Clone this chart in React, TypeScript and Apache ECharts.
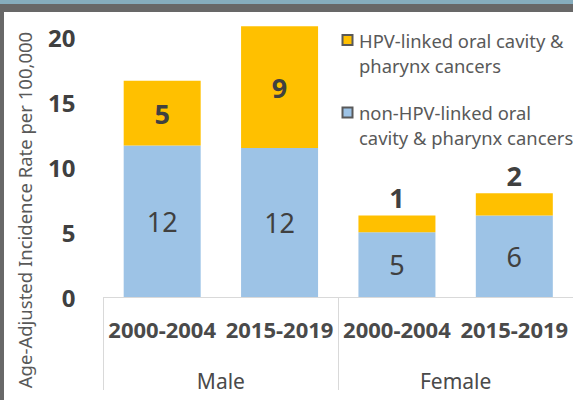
import React, { useEffect, useRef } from "react";
import * as echarts from "echarts";

const periods = ["M|2000-2004", "M|2015-2019", "F|2000-2004", "F|2015-2019"];
const sexes = ["Male", "Female"];
const nonHpvValues = [11.7, 11.5, 5.0, 6.3];
const hpvValues = [5.0, 9.4, 1.3, 1.7];
const seriesNames = [
  "HPV-linked oral cavity & pharynx cancers",
  "non-HPV-linked oral cavity & pharynx cancers",
];
const legendLines = [
  "HPV-linked oral cavity &\npharynx cancers",
  "non-HPV-linked oral\ncavity & pharynx cancers",
];
const yTitle = "Age-Adjusted Incidence Rate per 100,000";

const BLUE = "#9dc3e6";
const YELLOW = "#ffc000";
const FONT = "'Noto Sans', sans-serif";

export default function App() {
  const ref = useRef<HTMLDivElement>(null);
  useEffect(() => {
    if (!ref.current) return;
    const chart = echarts.init(ref.current, null, { renderer: "svg" });
    const option: any = {
      animation: false,
      backgroundColor: "#ffffff",
      textStyle: { fontFamily: FONT },
      legend: { show: false },
      grid: { left: 103.5, right: 0, top: 12, bottom: 103, containLabel: false },
      xAxis: [
        {
          type: "category",
          data: periods,
          position: "bottom",
          axisLine: { show: true, lineStyle: { color: "#d9d9d9", width: 1 } },
          axisTick: { show: false },
          axisLabel: {
            interval: 0,
            margin: 21,
            fontSize: 22,
            fontWeight: "bold",
            color: "#4a4a4a",
            fontFamily: FONT,
            formatter: (v: string) => v.split("|")[1],
          },
        },
        {
          type: "category",
          data: sexes,
          position: "bottom",
          axisLine: { show: false },
          axisTick: {
            show: true,
            length: 93,
            alignWithLabel: false,
            interval: 0,
            lineStyle: { color: "#d9d9d9", width: 1 },
          },
          axisLabel: {
            interval: 0,
            margin: 73,
            fontSize: 21,
            color: "#4a4a4a",
            fontFamily: FONT,
          },
        },
      ],
      yAxis: {
        type: "value",
        min: 0,
        max: 22,
        interval: 5,
        axisLine: { show: false },
        axisTick: { show: false },
        splitLine: { show: false },
        axisLabel: {
          margin: 28,
          fontSize: 24,
          fontWeight: "bold",
          color: "#404040",
          fontFamily: FONT,
          formatter: (v: number) => (v % 5 === 0 ? String(v) : ""),
        },
      },
      series: [
        {
          name: seriesNames[1],
          type: "bar",
          stack: "total",
          xAxisIndex: 0,
          barWidth: 77,
          itemStyle: { color: BLUE },
          label: {
            show: true,
            position: "inside",
            fontSize: 27,
            color: "#404040",
            fontFamily: FONT,
            formatter: (p: any) => String(Math.round(p.value)),
          },
          data: nonHpvValues,
        },
        {
          name: seriesNames[0],
          type: "bar",
          stack: "total",
          xAxisIndex: 0,
          barWidth: 77,
          itemStyle: { color: YELLOW },
          label: {
            show: true,
            fontSize: 27,
            fontWeight: "bold",
            color: "#404040",
            fontFamily: FONT,
            formatter: (p: any) => String(Math.round(p.value)),
          },
          data: hpvValues.map((v) => ({
            value: v,
            label: { position: v >= 3 ? "inside" : "top", distance: 4 },
          })),
        },
      ],
      graphic: [
        { type: "rect", shape: { x: 0, y: 0, width: 573, height: 4 }, style: { fill: "#86adbd" }, silent: true },
        { type: "rect", shape: { x: 0, y: 4, width: 573, height: 8 }, style: { fill: "#686868" }, silent: true },
        { type: "rect", shape: { x: 0, y: 4, width: 4, height: 396 }, style: { fill: "#686868" }, silent: true },
        {
          type: "text",
          x: 24,
          y: 210,
          rotation: Math.PI / 2,
          style: {
            text: yTitle,
            fontSize: 18.5,
            fontFamily: FONT,
            fill: "#595959",
            align: "center",
            verticalAlign: "middle",
          },
          silent: true,
        },
        {
          type: "rect",
          shape: { x: 342.5, y: 35, width: 10, height: 10 },
          style: { fill: YELLOW, stroke: "#595959", lineWidth: 2 },
          silent: true,
        },
        {
          type: "text",
          x: 359,
          y: 27.5,
          style: {
            text: legendLines[0],
            fontSize: 18.4,
            lineHeight: 25.5,
            fontFamily: FONT,
            fill: "#595959",
            align: "left",
            verticalAlign: "top",
          },
          silent: true,
        },
        {
          type: "rect",
          shape: { x: 342.5, y: 107.5, width: 10, height: 10 },
          style: { fill: BLUE, stroke: "#595959", lineWidth: 2 },
          silent: true,
        },
        {
          type: "text",
          x: 359,
          y: 99.5,
          style: {
            text: legendLines[1],
            fontSize: 18.4,
            lineHeight: 25.5,
            fontFamily: FONT,
            fill: "#595959",
            align: "left",
            verticalAlign: "top",
          },
          silent: true,
        },
      ],
    };
    chart.setOption(option);
    return () => chart.dispose();
  }, []);
  return (
    <div
      ref={ref}
      style={{ position: "absolute", left: 0, top: 0, width: 573, height: 400 }}
    />
  );
}
